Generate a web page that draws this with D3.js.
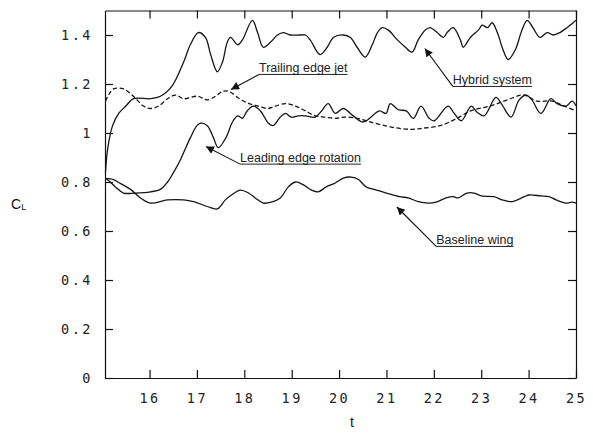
<!DOCTYPE html>
<html>
<head>
<meta charset="utf-8">
<script src="https://cdn.jsdelivr.net/npm/d3@7/dist/d3.min.js"></script>
<style>
  html, body { margin: 0; padding: 0; background: #fff; }
  svg { display: block; }
  .tick text { font-family: "DejaVu Sans Mono", monospace; font-size: 13.5px; letter-spacing: 2.5px; fill: #222; }
  .tick line, .domain { stroke: #111; stroke-width: 1.2; }
  .curve { fill: none; stroke: #151515; stroke-width: 1.3; stroke-linejoin: round; }
  .note { font-family: Arial, "Liberation Sans", sans-serif; font-size: 12.5px; fill: #222; }
  .lbl { font-family: Arial, "Liberation Sans", sans-serif; fill: #111; }
</style>
</head>
<body>
<svg id="chart" width="593" height="437"></svg>
<script>
// Lift coefficient histories C_L(t) for four wing configurations
const hybridT = [15.07,15.12,15.22,15.35,15.5,15.66,16.02,16.23,16.47,16.72,16.86,17.03,17.18,17.29,17.43,17.54,17.64,17.71,17.86,17.96,18.17,18.28,18.40,18.55,18.70,18.82,18.97,19.18,19.29,19.39,19.60,19.75,19.88,20.09,20.24,20.38,20.55,20.70,20.81,20.91,21.04,21.23,21.40,21.54,21.67,21.82,21.92,22.07,22.20,22.28,22.41,22.56,22.62,22.77,22.94,23.02,23.13,23.23,23.34,23.46,23.57,23.72,23.86,23.97,24.09,24.24,24.39,24.52,24.66,24.81,24.94,25.0];
const hybridCL = [0.84,0.94,1.03,1.08,1.11,1.14,1.14,1.15,1.19,1.29,1.36,1.41,1.39,1.32,1.25,1.29,1.37,1.39,1.36,1.38,1.46,1.41,1.35,1.37,1.40,1.41,1.40,1.40,1.40,1.38,1.32,1.35,1.39,1.40,1.39,1.35,1.31,1.36,1.41,1.43,1.42,1.38,1.35,1.33,1.38,1.42,1.43,1.41,1.39,1.41,1.43,1.38,1.35,1.39,1.42,1.44,1.43,1.45,1.41,1.34,1.30,1.34,1.42,1.46,1.43,1.39,1.41,1.40,1.41,1.43,1.45,1.46];

const jetT = [15.07,15.15,15.24,15.45,15.66,15.87,16.02,16.19,16.38,16.55,16.72,17.01,17.22,17.39,17.54,17.67,17.9,18.1,18.3,18.5,18.66,18.87,19.08,19.29,19.5,19.71,19.92,20.1,20.38,20.66,21.08,21.5,21.78,22.13,22.49,22.77,23.19,23.55,23.89,24.18,24.5,24.75,25.0];
const jetCL = [1.13,1.16,1.18,1.18,1.15,1.11,1.10,1.11,1.14,1.155,1.14,1.15,1.135,1.15,1.17,1.17,1.14,1.12,1.11,1.10,1.11,1.12,1.11,1.09,1.07,1.065,1.06,1.065,1.06,1.045,1.025,1.015,1.02,1.03,1.06,1.09,1.11,1.135,1.155,1.13,1.13,1.11,1.09];

const rotT = [15.07,15.17,15.28,15.45,15.7,16.02,16.23,16.38,16.51,16.65,16.72,16.86,17.0,17.08,17.22,17.35,17.45,17.61,17.75,17.86,17.96,18.06,18.19,18.34,18.51,18.61,18.76,18.87,18.99,19.14,19.29,19.50,19.63,19.77,19.92,20.09,20.30,20.51,20.85,20.99,21.08,21.25,21.42,21.57,21.73,21.90,22.01,22.30,22.43,22.58,22.79,22.91,23.06,23.31,23.44,23.63,23.80,23.95,24.07,24.26,24.47,24.60,24.79,24.92,25.0];
const rotCL = [0.815,0.80,0.78,0.755,0.755,0.76,0.77,0.80,0.84,0.89,0.92,0.98,1.03,1.04,1.03,0.98,0.94,0.98,1.045,1.07,1.06,1.09,1.11,1.09,1.04,1.03,1.065,1.08,1.065,1.07,1.07,1.065,1.09,1.12,1.08,1.10,1.07,1.045,1.09,1.08,1.12,1.095,1.09,1.06,1.11,1.06,1.05,1.11,1.08,1.05,1.11,1.085,1.07,1.145,1.115,1.065,1.135,1.155,1.135,1.08,1.14,1.12,1.11,1.13,1.11];

const baseT = [15.07,15.24,15.33,15.60,15.81,16.02,16.38,16.72,16.93,17.22,17.43,17.60,17.73,17.92,18.09,18.23,18.40,18.57,18.76,18.93,19.08,19.25,19.42,19.56,19.73,19.92,20.09,20.26,20.41,20.57,20.79,21.00,21.27,21.46,21.67,21.88,22.05,22.26,22.41,22.51,22.70,22.85,23.00,23.27,23.44,23.65,23.91,24.01,24.26,24.43,24.58,24.79,24.92,25.0];
const baseCL = [0.815,0.81,0.80,0.77,0.735,0.714,0.727,0.727,0.72,0.70,0.69,0.727,0.747,0.767,0.755,0.735,0.714,0.718,0.735,0.78,0.80,0.788,0.767,0.76,0.78,0.796,0.816,0.82,0.81,0.78,0.767,0.755,0.74,0.735,0.72,0.714,0.718,0.735,0.74,0.735,0.755,0.755,0.743,0.74,0.727,0.72,0.74,0.747,0.743,0.74,0.727,0.714,0.718,0.714];

const tTicks = [16,17,18,19,20,21,22,23,24,25];
const clTicks = [0,0.2,0.4,0.6,0.8,1,1.2,1.4];
const clTickLabels = ["0","0.2","0.4","0.6","0.8","1","1.2","1.4"];

const series = [
  { name: "Hybrid system", t: hybridT, cl: hybridCL, dashed: false },
  { name: "Trailing edge jet", t: jetT, cl: jetCL, dashed: true },
  { name: "Leading edge rotation", t: rotT, cl: rotCL, dashed: false },
  { name: "Baseline wing", t: baseT, cl: baseCL, dashed: false }
];

// Callouts: underline start of the label and arrow tip, both in (t, C_L)
const callouts = [
  { text: "Trailing edge jet",     from: [18.31, 1.239], tip: [17.72, 1.178] },
  { text: "Leading edge rotation", from: [17.91, 0.873], tip: [17.19, 0.945] },
  { text: "Hybrid system",         from: [22.40, 1.190], tip: [21.81, 1.345] },
  { text: "Baseline wing",         from: [22.05, 0.537], tip: [21.22, 0.698] }
];

const svg = d3.select("#chart");
const plotLeft = 105, plotRight = 576, plotTop = 10.5, plotBottom = 378;

const x = d3.scaleLinear().domain([15.06, 25]).range([plotLeft, plotRight]);
const y = d3.scaleLinear().domain([0, 1.5]).range([plotBottom, plotTop]);

// Frame with inward ticks on all four sides
svg.append("g").attr("transform", `translate(0,${plotBottom})`)
  .call(d3.axisBottom(x).tickValues(tTicks).tickSize(-8).tickSizeOuter(0).tickPadding(15).tickFormat(d3.format("d")));
svg.append("g").attr("transform", `translate(0,${plotTop})`)
  .call(d3.axisTop(x).tickValues(tTicks).tickSize(-8).tickSizeOuter(0).tickFormat(""));
svg.append("g").attr("transform", `translate(${plotLeft},0)`)
  .call(d3.axisLeft(y).tickValues(clTicks).tickSize(-8).tickSizeOuter(0).tickPadding(12)
    .tickFormat((d, i) => clTickLabels[i]));
svg.append("g").attr("transform", `translate(${plotRight},0)`)
  .call(d3.axisRight(y).tickValues(clTicks).tickSize(-8).tickSizeOuter(0).tickFormat(""));
svg.selectAll(".domain").attr("stroke", "#111").attr("stroke-width", 1.4);

// Curves
const line = d3.line().curve(d3.curveCatmullRom.alpha(0.5));
svg.append("g").selectAll("path").data(series).join("path")
  .attr("class", "curve")
  .attr("stroke-dasharray", d => d.dashed ? "4.5,2.5" : null)
  .attr("d", d => line(d.t.map((tv, i) => [x(tv), y(d.cl[i])])));

// Arrow heads
svg.append("defs").append("marker")
  .attr("id", "head").attr("viewBox", "0 0 10 10")
  .attr("refX", 10).attr("refY", 5)
  .attr("markerWidth", 10).attr("markerHeight", 8)
  .attr("markerUnits", "userSpaceOnUse")
  .attr("orient", "auto")
  .append("path").attr("d", "M0,0 L10,5 L0,10 z").attr("fill", "#111");

const notes = svg.append("g").selectAll("g").data(callouts).join("g");
notes.append("line")
  .attr("x1", d => x(d.from[0])).attr("y1", d => y(d.from[1]))
  .attr("x2", d => x(d.tip[0])).attr("y2", d => y(d.tip[1]))
  .attr("stroke", "#111").attr("stroke-width", 1.1)
  .attr("marker-end", "url(#head)");
notes.append("text")
  .attr("class", "note")
  .attr("x", d => x(d.from[0]))
  .attr("y", d => y(d.from[1]) - 2.5)
  .text(d => d.text)
  .each(function (d) { d.w = this.getComputedTextLength(); });
notes.append("line")
  .attr("x1", d => x(d.from[0])).attr("x2", d => x(d.from[0]) + d.w)
  .attr("y1", d => y(d.from[1])).attr("y2", d => y(d.from[1]))
  .attr("stroke", "#222").attr("stroke-width", 1);

// Axis titles
svg.append("text").attr("class", "lbl").attr("x", 352).attr("y", 427)
  .attr("text-anchor", "middle").attr("font-size", 14).text("t");
const cl = svg.append("text").attr("class", "lbl").attr("x", 11).attr("y", 209).attr("font-size", 14);
cl.append("tspan").text("C");
cl.append("tspan").attr("font-size", 9).attr("dy", 1).text("L");
</script>
</body>
</html>
